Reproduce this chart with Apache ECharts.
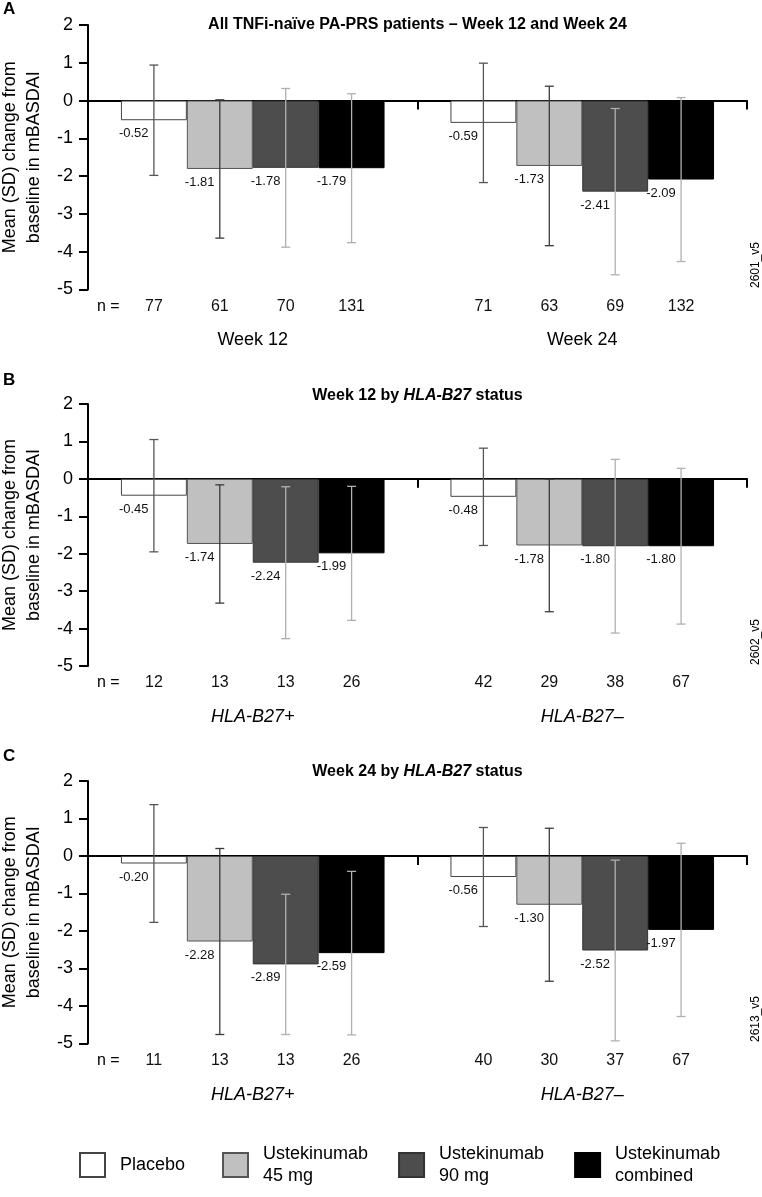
<!DOCTYPE html>
<html><head><meta charset="utf-8">
<script src="https://cdn.jsdelivr.net/npm/echarts@6/dist/echarts.min.js"></script>
<style>html,body{margin:0;padding:0;background:#fff}#c{width:762px;height:1197px}</style>
</head><body><div id="c"></div>
<script>
// ---------- DATA ----------
const seriesNames = ['Placebo', 'Ustekinumab 45 mg', 'Ustekinumab 90 mg', 'Ustekinumab combined'];
const legendLabels = ['Placebo', 'Ustekinumab\n45 mg', 'Ustekinumab\n90 mg', 'Ustekinumab\ncombined'];
const categoriesA = ['Week 12', 'Week 24'];
const categoriesB = ['HLA-B27+', 'HLA-B27–'];
const categoriesC = ['HLA-B27+', 'HLA-B27–'];
const yMin = -5, yMax = 2, yInterval = 1;

// Panel A: all TNFi-naive PA-PRS patients (Week 12, Week 24)
const meanA_placebo = [-0.52, -0.59];
const meanA_u45 = [-1.81, -1.73];
const meanA_u90 = [-1.78, -2.41];
const meanA_comb = [-1.79, -2.09];
const sdA_placebo = [1.46, 1.58];
const sdA_u45 = [1.83, 2.11];
const sdA_u90 = [2.10, 2.20];
const sdA_comb = [1.97, 2.17];
const nA_placebo = [77, 71];
const nA_u45 = [61, 63];
const nA_u90 = [70, 69];
const nA_comb = [131, 132];

// Panel B: Week 12 by HLA-B27 status
const meanB_placebo = [-0.45, -0.48];
const meanB_u45 = [-1.74, -1.78];
const meanB_u90 = [-2.24, -1.80];
const meanB_comb = [-1.99, -1.80];
const sdB_placebo = [1.50, 1.30];
const sdB_u45 = [1.58, 1.77];
const sdB_u90 = [2.03, 2.32];
const sdB_comb = [1.79, 2.08];
const nB_placebo = [12, 42];
const nB_u45 = [13, 29];
const nB_u90 = [13, 38];
const nB_comb = [26, 67];

// Panel C: Week 24 by HLA-B27 status
const meanC_placebo = [-0.20, -0.56];
const meanC_u45 = [-2.28, -1.30];
const meanC_u90 = [-2.89, -2.52];
const meanC_comb = [-2.59, -1.97];
const sdC_placebo = [1.57, 1.32];
const sdC_u45 = [2.48, 2.04];
const sdC_u90 = [1.87, 2.41];
const sdC_comb = [2.18, 2.31];
const nC_placebo = [11, 40];
const nC_u45 = [13, 30];
const nC_u90 = [13, 37];
const nC_comb = [26, 67];

// ---------- STYLE ----------
const FONT = '"Liberation Sans", Arial, Helvetica, sans-serif';
const barFill = ['#ffffff', '#c0c0c0', '#4d4d4d', '#000000'];
const barBorder = ['#444444', '#555555', '#333333', '#000000'];
const errColor = ['#555555', '#3a3a3a', '#b0b0b0', '#b0b0b0'];

const panels = [
  { cats: categoriesA, italic: false, top: 25, height: 264.5,
    means: [meanA_placebo, meanA_u45, meanA_u90, meanA_comb],
    sds: [sdA_placebo, sdA_u45, sdA_u90, sdA_comb],
    ns: [nA_placebo, nA_u45, nA_u90, nA_comb] },
  { cats: categoriesB, italic: true, top: 404, height: 262,
    means: [meanB_placebo, meanB_u45, meanB_u90, meanB_comb],
    sds: [sdB_placebo, sdB_u45, sdB_u90, sdB_comb],
    ns: [nB_placebo, nB_u45, nB_u90, nB_comb] },
  { cats: categoriesC, italic: true, top: 781, height: 262.5,
    means: [meanC_placebo, meanC_u45, meanC_u90, meanC_comb],
    sds: [sdC_placebo, sdC_u45, sdC_u90, sdC_comb],
    ns: [nC_placebo, nC_u45, nC_u90, nC_comb] }
];

const grids = [], xAxes = [], yAxes = [], series = [];
panels.forEach((p, pi) => {
  grids.push({ left: 88, right: 15, top: p.top, height: p.height, containLabel: false, outerBoundsMode: 'none' });
  // main x axis: line at zero, ticks at category boundaries
  xAxes.push({
    type: 'category', gridIndex: pi, data: p.cats, boundaryGap: true,
    axisLine: { onZero: true, lineStyle: { color: '#000', width: 2 } },
    axisTick: { show: true, length: 9, alignWithLabel: false, lineStyle: { color: '#000', width: 2 } },
    axisLabel: { show: false }, splitLine: { show: false }
  });
  // label x axis at the bottom
  xAxes.push({
    type: 'category', gridIndex: pi, data: p.cats, position: 'bottom',
    axisLine: { show: false, onZero: false }, axisTick: { show: false },
    axisLabel: { show: true, margin: 42, fontSize: 18, color: '#000', fontFamily: FONT,
      fontStyle: p.italic ? 'italic' : 'normal' },
    splitLine: { show: false }
  });
  yAxes.push({
    type: 'value', gridIndex: pi, min: yMin, max: yMax, interval: yInterval,
    name: 'Mean (SD) change from\nbaseline in mBASDAI', nameLocation: 'middle', nameRotate: 90, nameGap: 42,
    nameTextStyle: { fontSize: 18, lineHeight: 24, color: '#000', fontFamily: FONT },
    axisLine: { show: true, onZero: false, lineStyle: { color: '#000', width: 2 } },
    axisTick: { show: true, length: 9, lineStyle: { color: '#000', width: 2 } },
    axisLabel: { fontSize: 18, color: '#000', margin: 15, fontFamily: FONT },
    splitLine: { show: false }
  });
  for (let s = 0; s < 4; s++) {
    series.push({
      type: 'bar', name: seriesNames[s], xAxisIndex: pi * 2, yAxisIndex: pi,
      data: p.means[s], barGap: '0%', barCategoryGap: '20%',
      itemStyle: { color: barFill[s], borderColor: barBorder[s], borderWidth: 1 },
      emphasis: { disabled: true }, animation: false
    });
  }
  const errData = [];
  for (let s = 0; s < 4; s++) {
    for (let c = 0; c < p.cats.length; c++) {
      errData.push([c, p.means[s][c], p.sds[s][c], p.ns[s][c], s]);
    }
  }
  series.push({
    type: 'custom', xAxisIndex: pi * 2, yAxisIndex: pi, z: 5, animation: false, silent: true,
    dimensions: ['cat', 'mean', 'sd', 'n', 's'],
    encode: { x: 'cat', y: 'mean' },
    data: errData,
    renderItem: function (params, api) {
      const cat = api.value(0), mean = api.value(1), sd = api.value(2), n = api.value(3), s = api.value(4);
      const base = api.coord([cat, mean]);
      const bw = api.size([1, 0])[0];
      const xc = base[0] + (s - 1.5) * 0.2 * bw;
      const xl = xc - 0.1 * bw;
      const yT = api.coord([cat, mean + sd])[1];
      const yB = api.coord([cat, mean - sd])[1];
      const yAxisMin = api.coord([cat, yMin])[1];
      const col = errColor[s];
      const cap = 4.5;
      return {
        type: 'group',
        children: [
          { type: 'line', shape: { x1: xc, y1: yT, x2: xc, y2: yB }, style: { stroke: col, lineWidth: 1.3 } },
          { type: 'line', shape: { x1: xc - cap, y1: yT, x2: xc + cap, y2: yT }, style: { stroke: col, lineWidth: 1.3 } },
          { type: 'line', shape: { x1: xc - cap, y1: yB, x2: xc + cap, y2: yB }, style: { stroke: col, lineWidth: 1.3 } },
          { type: 'text', style: { text: mean.toFixed(2), x: xl - 2, y: base[1] + 13.5, fill: '#111',
              fontSize: 13, fontFamily: FONT, align: 'left', verticalAlign: 'middle' } },
          { type: 'text', style: { text: String(n), x: xc, y: yAxisMin + 17, fill: '#111',
              fontSize: 16, fontFamily: FONT, align: 'center', verticalAlign: 'middle' } }
        ]
      };
    }
  });
});

function txt(x, y, text, extra) {
  return Object.assign({ type: 'text', x: x, y: y, silent: true,
    style: Object.assign({ text: text, fill: '#000', fontFamily: FONT, fontSize: 16,
      align: 'center', verticalAlign: 'middle' }, extra || {}) });
}

const graphics = [
  txt(3, 9, 'A', { fontWeight: 'bold', fontSize: 17, align: 'left' }),
  txt(3, 380, 'B', { fontWeight: 'bold', fontSize: 17, align: 'left' }),
  txt(3, 756, 'C', { fontWeight: 'bold', fontSize: 17, align: 'left' }),
  txt(417.5, 25, 'All TNFi-naïve PA-PRS patients – Week 12 and Week 24', { fontWeight: 'bold', fontSize: 16 }),
  txt(417.5, 396, 'Week 12 by {i|HLA-B27} status', { fontWeight: 'bold', fontSize: 16,
    rich: { i: { fontStyle: 'italic', fontWeight: 'bold', fontSize: 16, fontFamily: FONT } } }),
  txt(417.5, 772, 'Week 24 by {i|HLA-B27} status', { fontWeight: 'bold', fontSize: 16,
    rich: { i: { fontStyle: 'italic', fontWeight: 'bold', fontSize: 16, fontFamily: FONT } } }),
  txt(97, 306.5, 'n =', { align: 'left' }),
  txt(97, 683, 'n =', { align: 'left' }),
  txt(97, 1060.5, 'n =', { align: 'left' })
];
['2601_v5', '2602_v5', '2613_v5'].forEach((code, i) => {
  const g = txt(756, [265, 642, 1019][i], code, { fontSize: 12 });
  g.rotation = Math.PI / 2;
  graphics.push(g);
});

const legendData = seriesNames.map((nm, i) => ({
  name: nm,
  textStyle: i === 0 ? { padding: [0, 0, 0, 10], width: 72 } : { padding: [22, 0, 0, 10], width: 104 }
}));

const chart = echarts.init(document.getElementById('c'), null, { renderer: 'canvas' });
chart.setOption({
  animation: false,
  backgroundColor: '#fff',
  textStyle: { fontFamily: FONT },
  grid: grids, xAxis: xAxes, yAxis: yAxes, series: series,
  legend: {
    left: 79, top: 1132, orient: 'horizontal', itemWidth: 25, itemHeight: 24, itemGap: 30, padding: 0,
    icon: 'rect', selectedMode: false,
    textStyle: { fontSize: 18, lineHeight: 22, color: '#000', fontFamily: FONT },
    formatter: function (name) { return legendLabels[seriesNames.indexOf(name)]; },
    data: legendData
  },
  graphic: graphics
});
</script>
</body></html>
